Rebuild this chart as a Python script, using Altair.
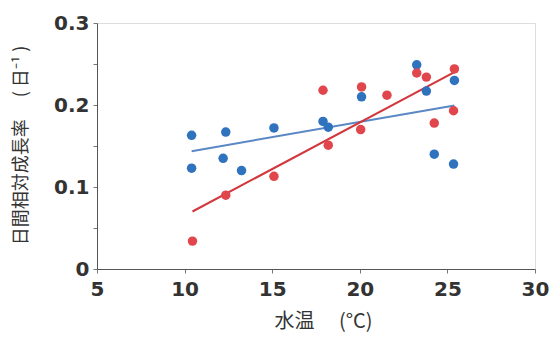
import altair as alt
import pandas as pd

# Blue series (water temperature, relative growth rate)
blue_x = [10.4, 10.4, 12.35, 12.2, 13.25, 15.1, 17.9, 18.2, 20.1, 23.25, 23.8, 24.25, 25.4, 25.35]
blue_y = [0.163, 0.123, 0.167, 0.135, 0.120, 0.172, 0.180, 0.173, 0.210, 0.249, 0.217, 0.140, 0.230, 0.128]

# Red series
red_x = [10.45, 12.35, 15.1, 17.9, 18.2, 20.05, 20.1, 21.55, 23.25, 23.8, 24.25, 25.35, 25.4]
red_y = [0.034, 0.090, 0.113, 0.218, 0.151, 0.170, 0.222, 0.212, 0.239, 0.234, 0.178, 0.193, 0.244]

series_names = ["blue", "red"]
point_colors = ["#2F72BE", "#E0464B"]
line_colors = ["#5A88C4", "#D2373D"]

x_ticks = [5, 10, 15, 20, 25, 30]
y_ticks = [0, 0.05, 0.1, 0.15, 0.2, 0.25, 0.3]

df = pd.DataFrame({
    "temp": blue_x + red_x,
    "rate": blue_y + red_y,
    "series": ["blue"] * len(blue_x) + ["red"] * len(red_x),
})

x_enc = alt.X("temp:Q",
              scale=alt.Scale(domain=[5, 30], nice=False, zero=False),
              axis=alt.Axis(values=x_ticks, title="水温　 (°C)", grid=False,
                            labelFlush=False,
                            labelFont="DejaVu Sans", labelFontWeight="bold",
                            labelFontSize=20, labelColor="#333333", labelPadding=6,
                            tickSize=4, tickColor="#777777", domainColor="#555555",
                            titleFont="Noto Sans CJK JP", titleFontSize=20,
                            titleFontWeight="normal", titleColor="#333333",
                            titleY=52, titleX=226, titleBaseline="middle",
                            titleAlign="center"))

y_enc = alt.Y("rate:Q",
              scale=alt.Scale(domain=[0, 0.3], nice=False),
              axis=alt.Axis(values=y_ticks, grid=False,
                            title="日間相対成長率　 ( 日⁻¹ )",
                            labelExpr="(round(datum.value*100) % 10 == 0) ? (datum.value == 0 ? '0' : format(datum.value, '.1f')) : ''",
                            labelFont="DejaVu Sans", labelFontWeight="bold",
                            labelFontSize=20, labelColor="#333333", labelPadding=4,
                            tickSize=4, tickColor="#777777", domainColor="#555555",
                            titleFont="Noto Sans CJK JP", titleFontSize=18,
                            titleFontWeight="normal", titleColor="#333333",
                            titleX=-76, titleY=122, titleAngle=-90,
                            titleBaseline="middle", titleAlign="center"))

color_pts = alt.Color("series:N", scale=alt.Scale(domain=series_names, range=point_colors), legend=None)

points = alt.Chart(df).mark_circle(size=90, opacity=1).encode(
    x=x_enc, y=y_enc, color=color_pts)

lines = alt.Chart(df).transform_regression(
    "temp", "rate", groupby=["series"]
).mark_line(strokeWidth=2).encode(
    x="temp:Q", y="rate:Q",
    color=alt.Color("series:N", scale=alt.Scale(domain=series_names, range=line_colors), legend=None))

chart = alt.layer(lines, points).resolve_scale(color="independent").properties(
    width=438, height=246,
    autosize=alt.AutoSizeParams(type="none"),
    padding={"left": 89, "top": 15, "right": 14, "bottom": 75},
).configure_view(stroke="#555555", strokeWidth=1).configure(background="white")

chart.save("out.html", embed_options={"renderer": "svg", "actions": False})
